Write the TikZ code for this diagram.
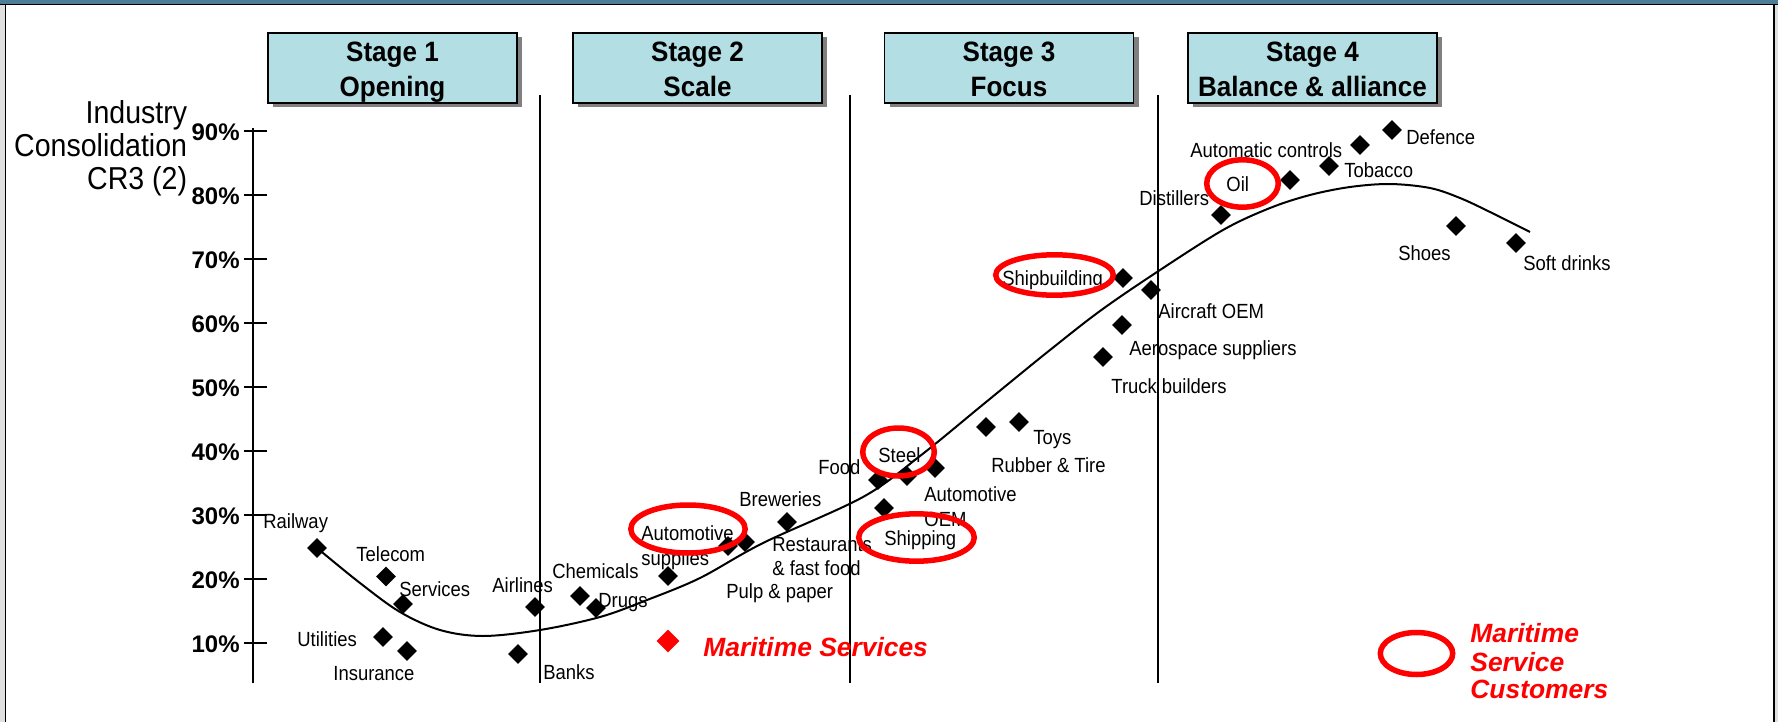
\documentclass[tikz,border=0pt]{standalone}
\usepackage{fontspec}
\setmainfont{Liberation Sans}
\newfontfamily\lblfont[FakeStretch=0.9]{Liberation Sans}
\newfontfamily\stgfont[FakeStretch=0.93]{Liberation Sans}
\usetikzlibrary{shapes.geometric,shadows}
\definecolor{bandblue}{RGB}{78,126,150}
\definecolor{stagefill}{RGB}{178,222,228}
\definecolor{mred}{RGB}{255,0,0}
\definecolor{shadowgray}{RGB}{128,128,128}
\begin{document}
\begin{tikzpicture}[x=0.5pt,y=-0.5pt,
  dia/.style={diamond, fill=black, inner sep=0pt, minimum width=10pt, minimum height=10pt},
  reddia/.style={diamond, fill=mred, inner sep=0pt, minimum width=11.5pt, minimum height=11.5pt},
  lbl/.style={font=\lblfont\fontsize{10.25}{12}\selectfont, anchor=base west, inner sep=0pt, yshift=-3.65pt},
  pct/.style={font=\bfseries\fontsize{12}{14}\selectfont, anchor=base east, inner sep=0pt, yshift=-4.8pt},
  ytitle/.style={font=\lblfont\fontsize{15.85}{18}\selectfont, anchor=base east, inner sep=0pt, yshift=-5.7pt},
  stagebox/.style={draw=black, line width=0.6pt, fill=stagefill, minimum width=124.5pt, minimum height=35pt, inner sep=0pt,
     general shadow={fill=shadowgray, shadow xshift=2.5pt, shadow yshift=-2pt}},
  stagetxt/.style={font=\stgfont\bfseries\fontsize{14}{16}\selectfont, anchor=base, inner sep=0pt},
  redtxt/.style={font=\bfseries\itshape\fontsize{13.2}{15}\selectfont, text=mred, anchor=base west, inner sep=0pt, yshift=-4.7pt},
  ring/.style={draw=mred, line width=2.75pt},
  sep/.style={line width=0.9pt},
]
\useasboundingbox (0,0) rectangle (1778,722);
% frame
\fill[black!12] (0,0) rectangle (1778,722);
\fill[white] (5,5) rectangle (1774,722);
\fill[bandblue] (0,0) rectangle (1778,4);
\draw[line width=0.8pt] (0,4.5) -- (1778,4.5);
\draw[line width=0.8pt] (5.5,4.5) -- (5.5,722);
\draw[line width=1.2pt] (1774,4.5) -- (1774,722);

% stage boxes
\node[stagebox] (s1) at (392.5,68) {};
\node[stagebox] (s2) at (697.5,68) {};
\node[stagebox] (s3) at (1009,68) {};
\node[stagebox] (s4) at (1312.5,68) {};
\node[stagetxt] (s1a) at (392.5,62) {Stage 1};
\node[stagetxt] (s1b) at (392.5,97) {Opening};
\node[stagetxt] (s2a) at (697.5,62) {Stage 2};
\node[stagetxt] (s2b) at (697.5,97) {Scale};
\node[stagetxt] (s3a) at (1009,62) {Stage 3};
\node[stagetxt] (s3b) at (1009,97) {Focus};
\node[stagetxt] (s4a) at (1312.5,62) {Stage 4};
\node[stagetxt] (s4b) at (1312.5,97) {Balance \& alliance};

% stage separators
\draw[sep] (540,95) -- (540,683);
\draw[sep] (850,95) -- (850,683);
\draw[sep] (1158,95) -- (1158,683);

% axis
\draw[line width=1pt] (253,128) -- (253,683);
\foreach \p in {10,20,...,90} {
  \draw[line width=0.9pt] (244,{707.2-6.4*\p}) -- (267,{707.2-6.4*\p});
  \node[pct] (t\p) at (240,{707.2-6.4*\p}) {\p\%};
}
\node[ytitle] (yt1) at (187.5,112) {Industry};
\node[ytitle] (yt2) at (187.5,145) {Consolidation};
\node[ytitle] (yt3) at (187.5,178) {CR3 (2)};

% curve
\draw[line width=1pt] plot[smooth, tension=0.55] coordinates {(317,548) (360,583) (400,612) (440,630) (483,636) (540,630) (600,617) (647,600) (700,578) (763,543) (863,497) (920,456) (980,407) (1013,380) (1050,350) (1100,311) (1157,272) (1223,230) (1270,208) (1310,195) (1350,187) (1390,184) (1430,188) (1460,198) (1490,212) (1530,232)};

% diamonds
\node[dia] (dRail) at (317,548) {};
\node[dia] (dTele) at (386,576.5) {};
\node[dia] (dServ) at (403,604) {};
\node[dia] (dUtil) at (383,637) {};
\node[dia] (dIns) at (407,651) {};
\node[dia] (dAir) at (535,607) {};
\node[dia] (dBank) at (518,654) {};
\node[dia] (dChem) at (580,596) {};
\node[dia] (dDrug) at (596,608) {};
\node[dia] (dAuSu) at (668,576) {};
\node[dia] (dPulp) at (728,546) {};
\node[dia] (dRest) at (745,542) {};
\node[dia] (dBrew) at (787,522) {};
\node[dia] (dFood) at (878,480) {};
\node[dia] (dSteel) at (907,476) {};
\node[dia] (dAuOEM) at (935,468) {};
\node[dia] (dShip) at (884,508) {};
\node[dia] (dRub) at (986,427) {};
\node[dia] (dToys) at (1019,422) {};
\node[dia] (dTruck) at (1103,357) {};
\node[dia] (dAero) at (1122,325) {};
\node[dia] (dShipb) at (1123,278) {};
\node[dia] (dAirc) at (1151,290) {};
\node[dia] (dDist) at (1221,215) {};
\node[dia] (dOil) at (1290,180) {};
\node[dia] (dTob) at (1329,166) {};
\node[dia] (dAuCo) at (1360,145) {};
\node[dia] (dDef) at (1392,130) {};
\node[dia] (dShoe) at (1456,226) {};
\node[dia] (dSoft) at (1516,243) {};
\node[reddia] (dMar) at (668,641) {};

% labels
\node[lbl] (lRail) at (263,521) {Railway};
\node[lbl] (lTele) at (356,554) {Telecom};
\node[lbl] (lServ) at (399,589) {Services};
\node[lbl] (lUtil) at (297,639) {Utilities};
\node[lbl] (lIns) at (333,673) {Insurance};
\node[lbl] (lAir) at (492,585) {Airlines};
\node[lbl] (lBank) at (543,672) {Banks};
\node[lbl] (lChem) at (552,571) {Chemicals};
\node[lbl] (lDrug) at (598,600) {Drugs};
\node[lbl] (lAuSu1) at (641,533) {Automotive};
\node[lbl] (lAuSu2) at (641,558) {supplies};
\node[lbl] (lBrew) at (739,499) {Breweries};
\node[lbl] (lPulp) at (726,591) {Pulp \& paper};
\node[lbl] (lFood) at (818,467) {Food};
\node[lbl] (lSteel) at (878,455) {Steel};
\node[lbl] (lToys) at (1033,437) {Toys};
\node[lbl] (lRub) at (991,465) {Rubber \& Tire};
\node[lbl] (lAuOEM1) at (924,494) {Automotive};
\node[lbl] (lAuOEM2) at (924,519) {OEM};
\node[lbl] (lRest1) at (772,544) {Restaurants};
\node[lbl] (lRest2) at (772,568) {\& fast food};
\node[lbl] (lShip) at (884,538) {Shipping};
\node[lbl] (lTruck) at (1111,386) {Truck builders};
\node[lbl] (lAero) at (1129,348) {Aerospace suppliers};
\node[lbl] (lAirc) at (1158,311) {Aircraft OEM};
\node[lbl] (lShipb) at (1002,278) {Shipbuilding};
\node[lbl] (lDist) at (1139,198) {Distillers};
\node[lbl] (lOil) at (1226,184) {Oil};
\node[lbl] (lTob) at (1344,170) {Tobacco};
\node[lbl] (lAuCo) at (1190,150) {Automatic controls};
\node[lbl] (lDef) at (1406,137) {Defence};
\node[lbl] (lShoe) at (1398,253) {Shoes};
\node[lbl] (lSoft) at (1523,263) {Soft drinks};

\node[redtxt] (lMar) at (703,647) {Maritime Services};
\node[redtxt] (lLeg1) at (1470,633) {Maritime};
\node[redtxt] (lLeg2) at (1470,662) {Service};
\node[redtxt] (lLeg3) at (1470,689) {Customers};

% rings
\draw[ring] (688,529) ellipse [x radius=28.6pt, y radius=12pt];
\draw[ring] (898.5,452) ellipse [x radius=17.9pt, y radius=12pt];
\draw[ring] (916.5,537.5) ellipse [x radius=28.9pt, y radius=11.85pt];
\draw[ring] (1242.5,183.5) ellipse [x radius=17.9pt, y radius=11.85pt];
\draw[ring] (1054.5,275) ellipse [x radius=29.4pt, y radius=10.1pt];
\draw[ring] (1416.5,653.5) ellipse [x radius=18.1pt, y radius=10.5pt];
\end{tikzpicture}
\end{document}
